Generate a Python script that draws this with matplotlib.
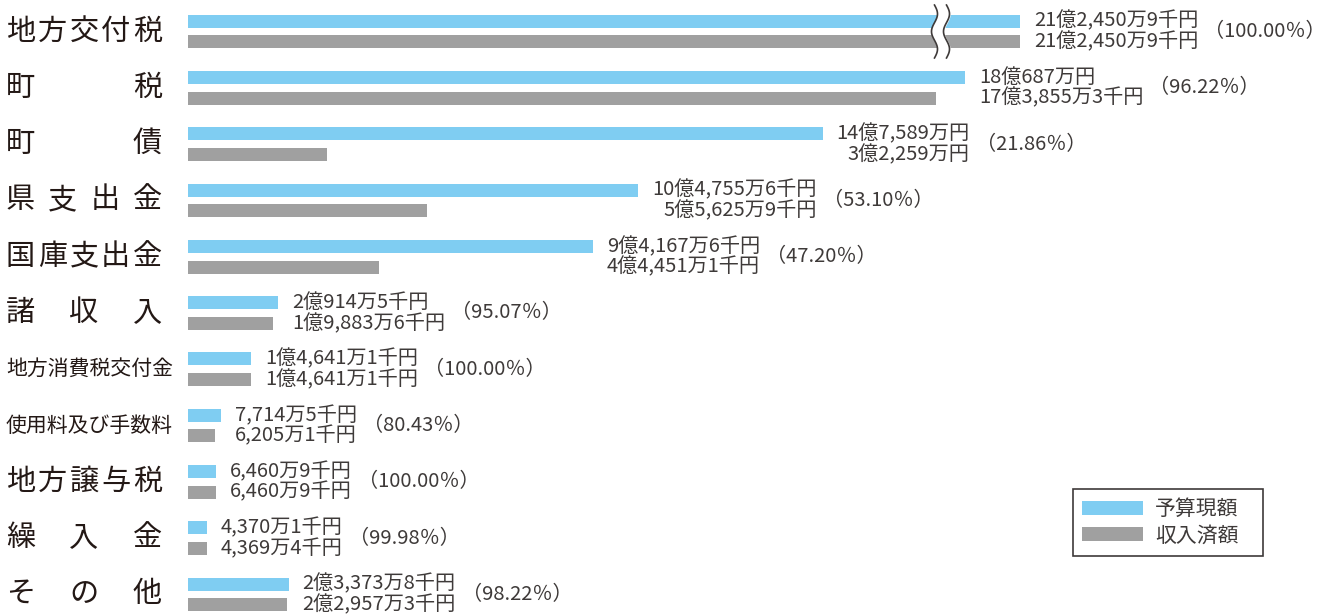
import numpy as np
import matplotlib.pyplot as plt
from matplotlib.patches import Patch

plt.rcParams['font.family'] = ['Noto Sans CJK JP', 'DejaVu Sans']

# 単位: 万円
labels = ['地方交付税', '町税', '町債', '県支出金', '国庫支出金', '諸収入',
          '地方消費税交付金', '使用料及び手数料', '地方譲与税', '繰入金', 'その他']
budget = [212450.9, 180687, 147589, 104755.6, 94167.6, 20914.5,
          14641.1, 7714.5, 6460.9, 4370.1, 23373.8]
received = [212450.9, 173855.3, 32259, 55625.9, 44451.1, 19883.6,
            14641.1, 6205.1, 6460.9, 4369.4, 22957.3]
budget_txt = ['21億2,450万9千円', '18億687万円', '14億7,589万円', '10億4,755万6千円',
              '9億4,167万6千円', '2億914万5千円', '1億4,641万1千円', '7,714万5千円',
              '6,460万9千円', '4,370万1千円', '2億3,373万8千円']
received_txt = ['21億2,450万9千円', '17億3,855万3千円', '3億2,259万円', '5億5,625万9千円',
                '4億4,451万1千円', '1億9,883万6千円', '1億4,641万1千円', '6,205万1千円',
                '6,460万9千円', '4,369万4千円', '2億2,957万3千円']
rate_txt = ['100.00', '96.22', '21.86', '53.10', '47.20', '95.07',
            '100.00', '80.43', '100.00', '99.98', '98.22']
right_align = ['町債', '県支出金']

blue = '#7fcdf2'
gray = '#a0a0a0'
ink = '#231815'
txt_col = '#3e3a39'

W, H = 1336, 616
k = 0.0043          # px / 万円
knee, squeeze = 185000, 0.31

def fwd(v):
    v = np.asarray(v, dtype=float)
    return np.where(v <= knee, v, knee + (v - knee) * squeeze)

def inv(u):
    u = np.asarray(u, dtype=float)
    return np.where(u <= knee, u, knee + (u - knee) / squeeze)

fig = plt.figure(figsize=(W / 100, H / 100), dpi=100)
left = 188 / W
ax = fig.add_axes([left, 0, 1 - left, 1])
ax.set_xscale('function', functions=(fwd, inv))
ax.set_xlim(0, float(inv((W - 188) / k)))
row_px = 56.3
ax.set_ylim((H - 31.5) / row_px, -31.5 / row_px)
ax.axis('off')

y = np.arange(len(labels))
off = 10.3 / row_px
bh = 13 / row_px
ax.barh(y - off, budget, height=bh, color=blue, label='予算現額')
ax.barh(y + off, received, height=bh, color=gray, label='収入済額')

# 左のカテゴリ名 (均等割付)
fs_cat = 21
em = fs_cat * 100 / 72
for i, lab in enumerate(labels):
    yc = 1 - (31.5 + row_px * i) / H
    if len(lab) > 5:
        fig.text(6 / W, yc, lab, fontsize=15, color=ink, ha='left', va='center')
        continue
    n = len(lab)
    step = (162 - 6 - em) / (n - 1)
    for j, ch in enumerate(lab):
        fig.text((6 + j * step) / W, yc, ch, fontsize=fs_cat, color=ink,
                 ha='left', va='center')

# 金額ラベル
fs_val = 14.5
fig.canvas.draw()
r = fig.canvas.get_renderer()
for i in range(len(labels)):
    t1 = ax.annotate(budget_txt[i], xy=(budget[i], y[i] - off), xytext=(14, 0),
                     textcoords='offset pixels', ha='left', va='center',
                     fontsize=fs_val, color=txt_col)
    if labels[i] in right_align:
        t2 = ax.annotate(received_txt[i], xy=(1, 0.5), xycoords=t1,
                         xytext=(0, -2 * off * row_px), textcoords='offset pixels',
                         ha='right', va='center', fontsize=fs_val, color=txt_col)
    else:
        t2 = ax.annotate(received_txt[i], xy=(budget[i], y[i] + off), xytext=(14, 0),
                         textcoords='offset pixels', ha='left', va='center',
                         fontsize=fs_val, color=txt_col)
    w1 = t1.get_window_extent(r).x1
    w2 = t2.get_window_extent(r).x1
    ref = t1 if w1 >= w2 else t2
    ax.annotate('（' + rate_txt[i] + '％）', xy=(1, y[i]), xycoords=(ref, 'data'),
                xytext=(6, 0), textcoords='offset pixels', ha='left', va='center',
                fontsize=fs_val, color=txt_col)

# 地方交付税の省略記号
px = 1 / k
b = 175000
ys = np.linspace(-0.47, 0.47, 60)
wave = 3 * px * np.sin((ys + 0.47) / 0.94 * 3 * np.pi)
xl = b - 6 * px + wave
xr = b + 6 * px + wave
ax.fill_betweenx(ys, xl, xr, color='white', zorder=3)
ax.plot(xl, ys, color=txt_col, lw=1.2, zorder=4)
ax.plot(xr, ys, color=txt_col, lw=1.2, zorder=4)

handles = [Patch(facecolor=blue, label='予算現額'), Patch(facecolor=gray, label='収入済額')]
leg = fig.legend(handles=handles, loc='upper left',
                 bbox_to_anchor=(1073 / W, 1 - 555 / H, 190 / W, 66 / H),
                 mode='expand', alignment='center', borderaxespad=0,
                 fancybox=False, edgecolor='#3e3a39', framealpha=1,
                 handlelength=2.9, handleheight=0.65, handletextpad=0.6,
                 labelspacing=0.2, borderpad=0.45, fontsize=15,
                 labelcolor=txt_col)
leg.get_frame().set_linewidth(1.2)

fig.savefig('out.png', dpi=100)
